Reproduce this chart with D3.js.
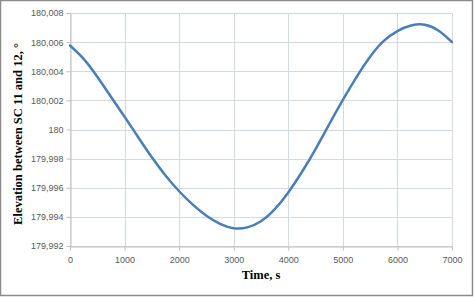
<!DOCTYPE html>
<html><head><meta charset="utf-8">
<script src="https://cdn.jsdelivr.net/npm/d3@7/dist/d3.min.js"></script>
<style>html,body{margin:0;padding:0;background:#fff;}svg{display:block;}</style>
</head><body>
<svg id="c" width="474" height="297"></svg>
<script>
const timeS = [0,250,500,750,1000,1250,1500,1750,2000,2250,2500,2750,3000,3250,3500,3750,4000,4250,4500,4750,5000,5250,5500,5750,6000,6250,6500,6750,7000];
const elevation = [180.00577,180.00485,180.00362,180.00225,180.00088,179.99947,179.99809,179.99684,179.99576,179.99484,179.99408,179.99352,179.99322,179.99328,179.99370,179.99452,179.99568,179.99708,179.99866,180.00036,180.00203,180.00360,180.00500,180.00608,180.00676,180.00714,180.00720,180.00680,180.00600];
const xTicks = [0,1000,2000,3000,4000,5000,6000,7000];
const yTicks = [179.992,179.994,179.996,179.998,180,180.002,180.004,180.006,180.008];
const yTickLabels = ["179,992","179,994","179,996","179,998","180","180,002","180,004","180,006","180,008"];
const xTitle = "Time, s";
const yTitle = "Elevation between SC 11 and 12, °";

const svg = d3.select("#c");
svg.append("rect").attr("x",0.5).attr("y",0.5).attr("width",472).attr("height",295)
  .attr("fill","#fff").attr("stroke","#8c8c8c").attr("stroke-width",1.5);

const L=70, R=452, T=13, B=246;
const x = d3.scaleLinear().domain([0,7000]).range([L,R]);
const y = d3.scaleLinear().domain([179.992,180.008]).range([B,T]);

const g = svg.append("g");
g.selectAll(".hg").data(yTicks).join("line")
  .attr("x1",L).attr("x2",R).attr("y1",d=>Math.round(y(d))+0.5).attr("y2",d=>Math.round(y(d))+0.5)
  .attr("stroke","#d4d9e6").attr("stroke-width",1);
g.selectAll(".vg").data(xTicks).join("line")
  .attr("y1",T).attr("y2",B).attr("x1",d=>Math.round(x(d))+0.5).attr("x2",d=>Math.round(x(d))+0.5)
  .attr("stroke","#d4d9e6").attr("stroke-width",1);

const xAxis = d3.axisBottom(x).tickValues(xTicks).tickSize(4).tickSizeOuter(0).tickFormat(d3.format("d"));
const gx = svg.append("g").attr("transform",`translate(0,${Math.round(B)+0.5})`).call(xAxis);
gx.select(".domain").attr("stroke","#bfbfbf");
gx.selectAll(".tick line").attr("stroke","#bfbfbf");
gx.selectAll("text").attr("fill","#595959").style("font-family","'Liberation Sans',Arial,sans-serif").style("font-size","9px").attr("dy","1.1em");

const yAxis = d3.axisLeft(y).tickValues(yTicks).tickSize(4).tickSizeOuter(0).tickFormat((d,i)=>yTickLabels[i]);
const gy = svg.append("g").attr("transform",`translate(${Math.round(L)+0.5},0)`).call(yAxis);
gy.select(".domain").attr("stroke","#bfbfbf");
gy.selectAll(".tick line").attr("stroke","#bfbfbf");
gy.selectAll("text").attr("fill","#595959").style("font-family","'Liberation Sans',Arial,sans-serif").style("font-size","9px").attr("x",-7);

const line = d3.line().x((d,i)=>x(timeS[i])).y(d=>y(d)).curve(d3.curveNatural);
svg.append("path").datum(elevation).attr("d",line).attr("fill","none")
  .attr("stroke","#4a7ebb").attr("stroke-width",2.5).attr("stroke-linecap","round");

svg.append("text").attr("x",(L+R)/2).attr("y",279).attr("text-anchor","middle")
  .style("font-family","'Liberation Serif','Times New Roman',serif").style("font-weight","bold").style("font-size","12.5px")
  .attr("fill","#000").text(xTitle);
svg.append("text").attr("transform",`translate(22,134) rotate(-90)`).attr("text-anchor","middle")
  .style("font-family","'Liberation Serif','Times New Roman',serif").style("font-weight","bold").style("font-size","12.5px")
  .attr("fill","#000").text(yTitle);
</script>
</body></html>
